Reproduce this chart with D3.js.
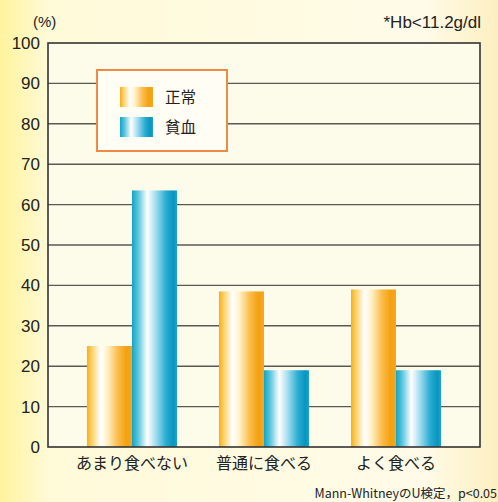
<!DOCTYPE html>
<html>
<head>
<meta charset="utf-8">
<script src="https://cdn.jsdelivr.net/npm/d3@7"></script>
<style>
  html, body { margin: 0; padding: 0; }
  body { width: 498px; height: 502px; overflow: hidden; }
  text { font-family: "Noto Sans CJK JP", "Noto Sans", sans-serif; fill: #222; }
</style>
</head>
<body>
<div class="main"></div>
<script>
const categories = ["あまり食べない", "普通に食べる", "よく食べる"];
const seriesNames = ["正常", "貧血"];
const normalValues = [25, 38.5, 39];
const anemiaValues = [63.5, 19, 19];
const yTicks = [0, 10, 20, 30, 40, 50, 60, 70, 80, 90, 100];

const w = 498;
const h = 502;
const plotL = 48, plotR = 480, plotT = 43, plotB = 447;

const svg = d3.select(".main").append("svg").attr("width", w).attr("height", h);
const defs = svg.append("defs");

// page background, a bit yellower at the edges
const bg = defs.append("linearGradient").attr("id", "bg");
[["0%", "#fff39c"], ["10%", "#fffad8"], ["85%", "#fffbe8"], ["100%", "#fcefc0"]]
    .forEach(([o, c]) => bg.append("stop").attr("offset", o).attr("stop-color", c));
svg.append("rect").attr("width", w).attr("height", h).attr("fill", "url(#bg)");

// cylinder-like bar fills
const grads = {
    "正常": [["0%", "#f6ae1c"], ["10%", "#fbcf60"], ["30%", "#ffffff"], ["45%", "#fff2c8"],
             ["68%", "#fbbd4e"], ["88%", "#f4a010"], ["100%", "#f6a820"]],
    "貧血": [["0%", "#14a4c4"], ["14%", "#5cc6de"], ["34%", "#ffffff"], ["52%", "#a8def0"],
             ["76%", "#28acd2"], ["92%", "#0a94c0"], ["100%", "#1aa6c8"]]
};
seriesNames.forEach((s, i) => {
    const g = defs.append("linearGradient").attr("id", "g" + i);
    grads[s].forEach(([o, c]) => g.append("stop").attr("offset", o).attr("stop-color", c));
});

const xScale = d3.scaleBand().domain(categories).range([plotL, plotR])
    .paddingInner(0.318).paddingOuter(0.295);
const xSeries = d3.scaleBand().domain(seriesNames).range([0, xScale.bandwidth()]);
const yScale = d3.scaleLinear().domain([0, 100]).range([plotB, plotT]);

// plot area
svg.append("rect")
    .attr("x", plotL).attr("y", plotT)
    .attr("width", plotR - plotL).attr("height", plotB - plotT)
    .attr("fill", "#fdfbe9");

// gridlines
svg.append("g")
    .selectAll("line")
    .data(yTicks.filter((d) => d > 0 && d < 100))
    .enter()
    .append("line")
    .attr("x1", plotL).attr("x2", plotR)
    .attr("y1", (d) => yScale(d)).attr("y2", (d) => yScale(d))
    .attr("stroke", "#5a5a55")
    .attr("stroke-width", 1.4);

// bars
const rows = categories.map((c, i) => ({ cat: c, values: [normalValues[i], anemiaValues[i]] }));
const groups = svg.append("g")
    .selectAll("g")
    .data(rows)
    .enter()
    .append("g")
    .attr("transform", (d) => `translate(${xScale(d.cat)},0)`);
groups.selectAll("rect")
    .data((d) => d.values.map((v, i) => ({ s: seriesNames[i], i: i, v: v })))
    .enter()
    .append("rect")
    .attr("x", (d) => xSeries(d.s))
    .attr("width", xSeries.bandwidth())
    .attr("y", (d) => yScale(d.v))
    .attr("height", (d) => yScale(0) - yScale(d.v))
    .attr("fill", (d) => `url(#g${d.i})`);

// frame
svg.append("rect")
    .attr("x", plotL).attr("y", plotT)
    .attr("width", plotR - plotL).attr("height", plotB - plotT)
    .attr("fill", "none")
    .attr("stroke", "#333")
    .attr("stroke-width", 1.6);

// y axis labels
const yAxis = d3.axisLeft(yScale).tickValues(yTicks).tickSize(0).tickPadding(8);
const ya = svg.append("g").attr("transform", `translate(${plotL},0)`).call(yAxis);
ya.select(".domain").remove();
ya.selectAll("text")
    .attr("font-size", 17)
    .attr("fill", "#222")
    .style("font-family", "'Liberation Sans', 'Noto Sans', sans-serif");

// x axis labels
const xAxis = d3.axisBottom(xScale).tickSize(0).tickPadding(11);
const xa = svg.append("g").attr("transform", `translate(0,${plotB})`).call(xAxis);
xa.select(".domain").remove();
xa.selectAll("text")
    .attr("font-size", 16)
    .attr("fill", "#222")
    .style("font-family", "'Noto Sans CJK JP', sans-serif");

// legend
const legend = svg.append("g").attr("id", "legend");
legend.append("rect")
    .attr("x", 97).attr("y", 70).attr("width", 130).attr("height", 81)
    .attr("fill", "#fffdf4")
    .attr("stroke", "#ee8a44")
    .attr("stroke-width", 2);
seriesNames.forEach((s, i) => {
    const y = 87 + i * 30;
    legend.append("rect")
        .attr("x", 120).attr("y", y).attr("width", 33).attr("height", 20)
        .attr("fill", `url(#g${i})`);
    legend.append("text")
        .attr("x", 165).attr("y", y + 10)
        .attr("dy", "0.36em")
        .attr("font-size", 15.5)
        .style("font-family", "'Noto Sans CJK JP', sans-serif")
        .text(s);
});

// annotations
svg.append("text").attr("x", 33).attr("y", 27)
    .attr("font-size", 15)
    .style("font-family", "'Liberation Sans', sans-serif")
    .text("(%)");
svg.append("text").attr("x", 481).attr("y", 28)
    .attr("text-anchor", "end")
    .attr("font-size", 17)
    .style("font-family", "'Liberation Sans', sans-serif")
    .text("*Hb<11.2g/dl");
svg.append("text").attr("x", 497).attr("y", 498)
    .attr("text-anchor", "end")
    .attr("font-size", 12.5)
    .style("font-family", "'Noto Sans CJK JP', sans-serif")
    .text("Mann-WhitneyのU検定，p<0.05");
</script>
</body>
</html>
